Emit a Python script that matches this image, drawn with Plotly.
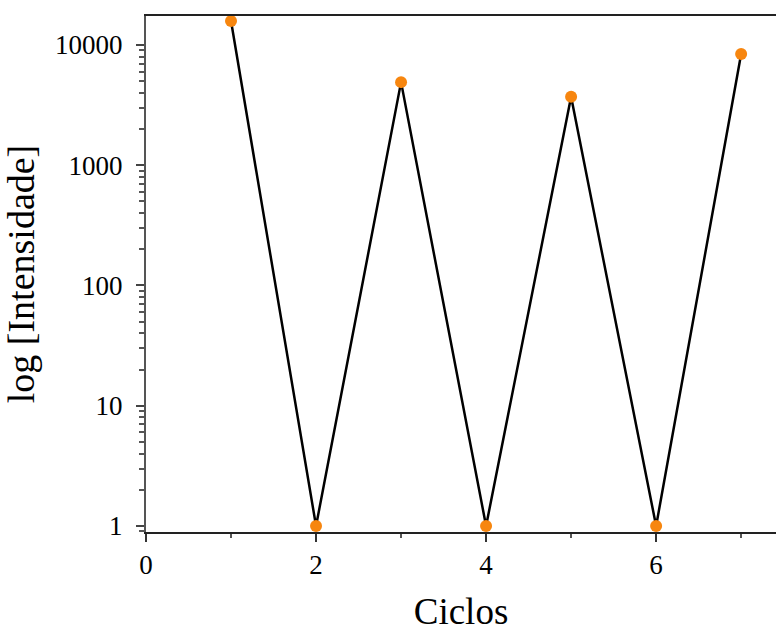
import plotly.graph_objects as go

# Intensity measured at each cycle
ciclos = [1, 2, 3, 4, 5, 6, 7]
intensidade = [15800, 1, 4900, 1, 3700, 1, 8400]

y_tickvals = [1, 10, 100, 1000, 10000]
y_ticktext = ["1", "10", "100", "1000", "10000"]
x_tickvals = [0, 2, 4, 6]

serif = "Liberation Serif, Times New Roman, serif"

fig = go.Figure()
fig.add_trace(go.Scatter(
    x=ciclos, y=intensidade,
    mode="lines+markers",
    line=dict(color="black", width=2.5),
    marker=dict(color="#F7860F", size=12),
    showlegend=False,
    cliponaxis=False,
))

fig.update_layout(
    width=776, height=632,
    margin=dict(l=146, r=0, t=16, b=100),
    paper_bgcolor="white", plot_bgcolor="white",
    font=dict(family=serif, color="black"),
    xaxis=dict(
        range=[0, 7.41],
        automargin=False,
        tickvals=x_tickvals,
        ticks="outside", ticklen=8, tickwidth=1.5, tickcolor="#333",
        tickfont=dict(size=27, family=serif),
        minor=dict(dtick=1, tick0=0, ticks="outside", ticklen=4, tickcolor="#555"),
        showline=True, linecolor="#222", linewidth=2,
        mirror=True,
        showgrid=False, zeroline=False,
        title=dict(text="Ciclos", font=dict(size=37, family=serif), standoff=36),
    ),
    yaxis=dict(
        type="log",
        range=[-0.05, 4.24],
        automargin=False,
        tickvals=y_tickvals, ticktext=y_ticktext,
        ticks="outside", ticklen=8, tickwidth=1.5, tickcolor="#444",
        ticklabelstandoff=8,
        tickfont=dict(size=27, family=serif),
        minor=dict(dtick="D1", ticks="outside", ticklen=5, tickcolor="#555", showgrid=False),
        showline=True, linecolor="#555", linewidth=2,
        mirror=False,
        showgrid=False, zeroline=False,
        title=dict(text="log [Intensidade]", font=dict(size=38, family=serif), standoff=10),
    ),
)

fig.write_html("out.html")
